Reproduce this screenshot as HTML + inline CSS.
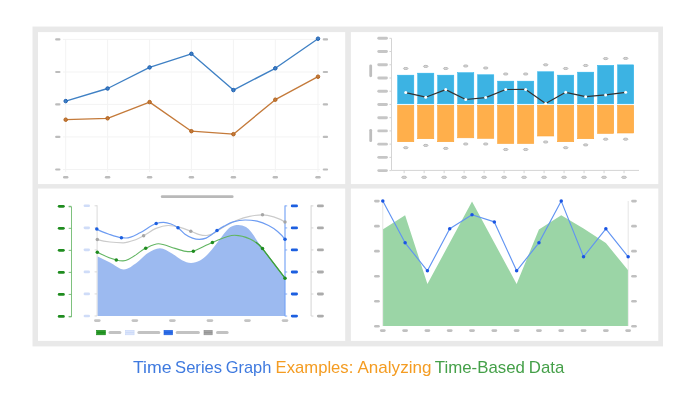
<!DOCTYPE html>
<html><head><meta charset="utf-8"><title>Time Series Graph Examples</title>
<style>
html,body{margin:0;padding:0;background:#ffffff;}
body{width:698px;height:400px;position:relative;overflow:hidden;font-family:"Liberation Sans",sans-serif;}
</style></head><body>
<svg width="698" height="400" viewBox="0 0 698 400" style="position:absolute;left:0;top:0">
<rect x="0" y="0" width="698" height="400" fill="#ffffff"/>
<rect x="32.5" y="26.55" width="630.5" height="319.85" fill="#e9e9e9"/>
<rect x="38.0" y="32.1" width="307.2" height="151.95" fill="#ffffff"/>
<rect x="350.9" y="32.1" width="307.4" height="151.95" fill="#ffffff"/>
<rect x="38.0" y="188.55" width="307.2" height="152.35" fill="#ffffff"/>
<rect x="350.9" y="188.55" width="307.4" height="152.35" fill="#ffffff"/>
<g id="tl">
<line x1="63" y1="39.4" x2="320" y2="39.4" stroke="#f3f3f3" stroke-width="1"/>
<line x1="63" y1="72.0" x2="320" y2="72.0" stroke="#f3f3f3" stroke-width="1"/>
<line x1="63" y1="104.4" x2="320" y2="104.4" stroke="#f3f3f3" stroke-width="1"/>
<line x1="63" y1="136.9" x2="320" y2="136.9" stroke="#f3f3f3" stroke-width="1"/>
<line x1="63" y1="169.5" x2="320" y2="169.5" stroke="#f3f3f3" stroke-width="1"/>
<line x1="65.7" y1="39.4" x2="65.7" y2="172" stroke="#f3f3f3" stroke-width="1"/>
<line x1="107.6" y1="39.4" x2="107.6" y2="172" stroke="#f3f3f3" stroke-width="1"/>
<line x1="149.6" y1="39.4" x2="149.6" y2="172" stroke="#f3f3f3" stroke-width="1"/>
<line x1="191.4" y1="39.4" x2="191.4" y2="172" stroke="#f3f3f3" stroke-width="1"/>
<line x1="233.4" y1="39.4" x2="233.4" y2="172" stroke="#f3f3f3" stroke-width="1"/>
<line x1="275.3" y1="39.4" x2="275.3" y2="172" stroke="#f3f3f3" stroke-width="1"/>
<line x1="318.0" y1="39.4" x2="318.0" y2="172" stroke="#f3f3f3" stroke-width="1"/>
<rect x="55.10" y="38.30" width="5.4" height="2.2" rx="1.1" fill="#bcbcbc"/>
<rect x="322.70" y="38.30" width="5.4" height="2.2" rx="1.1" fill="#bcbcbc"/>
<rect x="55.10" y="70.90" width="5.4" height="2.2" rx="1.1" fill="#bcbcbc"/>
<rect x="322.70" y="70.90" width="5.4" height="2.2" rx="1.1" fill="#bcbcbc"/>
<rect x="55.10" y="103.30" width="5.4" height="2.2" rx="1.1" fill="#bcbcbc"/>
<rect x="322.70" y="103.30" width="5.4" height="2.2" rx="1.1" fill="#bcbcbc"/>
<rect x="55.10" y="135.80" width="5.4" height="2.2" rx="1.1" fill="#bcbcbc"/>
<rect x="322.70" y="135.80" width="5.4" height="2.2" rx="1.1" fill="#bcbcbc"/>
<rect x="55.10" y="168.40" width="5.4" height="2.2" rx="1.1" fill="#bcbcbc"/>
<rect x="322.70" y="168.40" width="5.4" height="2.2" rx="1.1" fill="#bcbcbc"/>
<rect x="63.00" y="176.10" width="5.4" height="2.4" rx="1.2" fill="#bcbcbc"/>
<rect x="104.90" y="176.10" width="5.4" height="2.4" rx="1.2" fill="#bcbcbc"/>
<rect x="146.90" y="176.10" width="5.4" height="2.4" rx="1.2" fill="#bcbcbc"/>
<rect x="188.70" y="176.10" width="5.4" height="2.4" rx="1.2" fill="#bcbcbc"/>
<rect x="230.70" y="176.10" width="5.4" height="2.4" rx="1.2" fill="#bcbcbc"/>
<rect x="272.60" y="176.10" width="5.4" height="2.4" rx="1.2" fill="#bcbcbc"/>
<rect x="315.30" y="176.10" width="5.4" height="2.4" rx="1.2" fill="#bcbcbc"/>
<polyline points="65.7,119.7 107.6,118.3 149.6,102.1 191.4,131.2 233.4,134.2 275.3,99.7 318.0,76.7" fill="none" stroke="#c47a3a" stroke-width="1.35" stroke-linejoin="round"/>
<circle cx="65.7" cy="119.7" r="1.75" fill="#c47a3a" stroke="#b3631c" stroke-width="1"/>
<circle cx="107.6" cy="118.3" r="1.75" fill="#c47a3a" stroke="#b3631c" stroke-width="1"/>
<circle cx="149.6" cy="102.1" r="1.75" fill="#c47a3a" stroke="#b3631c" stroke-width="1"/>
<circle cx="191.4" cy="131.2" r="1.75" fill="#c47a3a" stroke="#b3631c" stroke-width="1"/>
<circle cx="233.4" cy="134.2" r="1.75" fill="#c47a3a" stroke="#b3631c" stroke-width="1"/>
<circle cx="275.3" cy="99.7" r="1.75" fill="#c47a3a" stroke="#b3631c" stroke-width="1"/>
<circle cx="318.0" cy="76.7" r="1.75" fill="#c47a3a" stroke="#b3631c" stroke-width="1"/>
<polyline points="65.7,101.1 107.6,88.5 149.6,67.4 191.4,53.8 233.4,90.1 275.3,68.3 318.0,38.7" fill="none" stroke="#3f80c4" stroke-width="1.35" stroke-linejoin="round"/>
<circle cx="65.7" cy="101.1" r="1.75" fill="#3f80c4" stroke="#1c5fb3" stroke-width="1"/>
<circle cx="107.6" cy="88.5" r="1.75" fill="#3f80c4" stroke="#1c5fb3" stroke-width="1"/>
<circle cx="149.6" cy="67.4" r="1.75" fill="#3f80c4" stroke="#1c5fb3" stroke-width="1"/>
<circle cx="191.4" cy="53.8" r="1.75" fill="#3f80c4" stroke="#1c5fb3" stroke-width="1"/>
<circle cx="233.4" cy="90.1" r="1.75" fill="#3f80c4" stroke="#1c5fb3" stroke-width="1"/>
<circle cx="275.3" cy="68.3" r="1.75" fill="#3f80c4" stroke="#1c5fb3" stroke-width="1"/>
<circle cx="318.0" cy="38.7" r="1.75" fill="#3f80c4" stroke="#1c5fb3" stroke-width="1"/>
</g>
<g id="tr">
<line x1="391.5" y1="38.3" x2="391.5" y2="170.4" stroke="#d4d4d4" stroke-width="1"/>
<line x1="391.5" y1="170.4" x2="639" y2="170.4" stroke="#d4d4d4" stroke-width="1"/>
<rect x="377.30" y="36.85" width="10.6" height="2.9" rx="1.45" fill="#c6c6c6"/>
<line x1="389.4" y1="38.30" x2="391.5" y2="38.30" stroke="#d4d4d4" stroke-width="1"/>
<rect x="377.30" y="50.08" width="10.6" height="2.9" rx="1.45" fill="#c6c6c6"/>
<line x1="389.4" y1="51.53" x2="391.5" y2="51.53" stroke="#d4d4d4" stroke-width="1"/>
<rect x="377.30" y="63.31" width="10.6" height="2.9" rx="1.45" fill="#c6c6c6"/>
<line x1="389.4" y1="64.76" x2="391.5" y2="64.76" stroke="#d4d4d4" stroke-width="1"/>
<rect x="377.30" y="76.54" width="10.6" height="2.9" rx="1.45" fill="#c6c6c6"/>
<line x1="389.4" y1="77.99" x2="391.5" y2="77.99" stroke="#d4d4d4" stroke-width="1"/>
<rect x="377.30" y="89.77" width="10.6" height="2.9" rx="1.45" fill="#c6c6c6"/>
<line x1="389.4" y1="91.22" x2="391.5" y2="91.22" stroke="#d4d4d4" stroke-width="1"/>
<rect x="377.30" y="103.00" width="10.6" height="2.9" rx="1.45" fill="#c6c6c6"/>
<line x1="389.4" y1="104.45" x2="391.5" y2="104.45" stroke="#d4d4d4" stroke-width="1"/>
<rect x="377.30" y="116.23" width="10.6" height="2.9" rx="1.45" fill="#c6c6c6"/>
<line x1="389.4" y1="117.68" x2="391.5" y2="117.68" stroke="#d4d4d4" stroke-width="1"/>
<rect x="377.30" y="129.46" width="10.6" height="2.9" rx="1.45" fill="#c6c6c6"/>
<line x1="389.4" y1="130.91" x2="391.5" y2="130.91" stroke="#d4d4d4" stroke-width="1"/>
<rect x="377.30" y="142.69" width="10.6" height="2.9" rx="1.45" fill="#c6c6c6"/>
<line x1="389.4" y1="144.14" x2="391.5" y2="144.14" stroke="#d4d4d4" stroke-width="1"/>
<rect x="377.30" y="155.92" width="10.6" height="2.9" rx="1.45" fill="#c6c6c6"/>
<line x1="389.4" y1="157.37" x2="391.5" y2="157.37" stroke="#d4d4d4" stroke-width="1"/>
<rect x="377.30" y="169.15" width="10.6" height="2.9" rx="1.45" fill="#c6c6c6"/>
<line x1="389.4" y1="170.60" x2="391.5" y2="170.60" stroke="#d4d4d4" stroke-width="1"/>
<rect x="369.3" y="64.4" width="2.8" height="12.8" rx="1.4" fill="#bebebe"/>
<rect x="369.3" y="128.9" width="2.8" height="13.2" rx="1.4" fill="#bebebe"/>
<rect x="397.65" y="75.15" width="16.2" height="28.70" fill="#3cb3e3" stroke="#2bb4ee" stroke-width="0.5"/>
<rect x="397.70" y="105.3" width="16.099999999999998" height="36.40" fill="#ffaf4b" stroke="#fba43a" stroke-width="0.6"/>
<ellipse cx="405.75" cy="68.50" rx="2.3" ry="1.05" fill="#d6d6d6" stroke="#b6b6b6" stroke-width="0.9"/>
<ellipse cx="405.75" cy="147.70" rx="2.3" ry="1.05" fill="#d6d6d6" stroke="#b6b6b6" stroke-width="0.9"/>
<line x1="404.15" y1="170.4" x2="404.15" y2="173.2" stroke="#cfcfcf" stroke-width="0.9"/>
<ellipse cx="404.15" cy="177.3" rx="2.5" ry="1.1" fill="#d6d6d6" stroke="#b8b8b8" stroke-width="0.9"/>
<rect x="417.64" y="73.15" width="16.2" height="30.70" fill="#3cb3e3" stroke="#2bb4ee" stroke-width="0.5"/>
<rect x="417.69" y="105.3" width="16.099999999999998" height="33.40" fill="#ffaf4b" stroke="#fba43a" stroke-width="0.6"/>
<ellipse cx="425.74" cy="66.40" rx="2.3" ry="1.05" fill="#d6d6d6" stroke="#b6b6b6" stroke-width="0.9"/>
<ellipse cx="425.74" cy="145.40" rx="2.3" ry="1.05" fill="#d6d6d6" stroke="#b6b6b6" stroke-width="0.9"/>
<line x1="424.14" y1="170.4" x2="424.14" y2="173.2" stroke="#cfcfcf" stroke-width="0.9"/>
<ellipse cx="424.14" cy="177.3" rx="2.5" ry="1.1" fill="#d6d6d6" stroke="#b8b8b8" stroke-width="0.9"/>
<rect x="437.63" y="75.15" width="16.2" height="28.70" fill="#3cb3e3" stroke="#2bb4ee" stroke-width="0.5"/>
<rect x="437.68" y="105.3" width="16.099999999999998" height="36.40" fill="#ffaf4b" stroke="#fba43a" stroke-width="0.6"/>
<ellipse cx="445.73" cy="68.50" rx="2.3" ry="1.05" fill="#d6d6d6" stroke="#b6b6b6" stroke-width="0.9"/>
<ellipse cx="445.73" cy="148.40" rx="2.3" ry="1.05" fill="#d6d6d6" stroke="#b6b6b6" stroke-width="0.9"/>
<line x1="444.13" y1="170.4" x2="444.13" y2="173.2" stroke="#cfcfcf" stroke-width="0.9"/>
<ellipse cx="444.13" cy="177.3" rx="2.5" ry="1.1" fill="#d6d6d6" stroke="#b8b8b8" stroke-width="0.9"/>
<rect x="457.62" y="72.65" width="16.2" height="31.20" fill="#3cb3e3" stroke="#2bb4ee" stroke-width="0.5"/>
<rect x="457.67" y="105.3" width="16.099999999999998" height="32.50" fill="#ffaf4b" stroke="#fba43a" stroke-width="0.6"/>
<ellipse cx="465.72" cy="66.00" rx="2.3" ry="1.05" fill="#d6d6d6" stroke="#b6b6b6" stroke-width="0.9"/>
<ellipse cx="465.72" cy="144.00" rx="2.3" ry="1.05" fill="#d6d6d6" stroke="#b6b6b6" stroke-width="0.9"/>
<line x1="464.12" y1="170.4" x2="464.12" y2="173.2" stroke="#cfcfcf" stroke-width="0.9"/>
<ellipse cx="464.12" cy="177.3" rx="2.5" ry="1.1" fill="#d6d6d6" stroke="#b8b8b8" stroke-width="0.9"/>
<rect x="477.61" y="74.75" width="16.2" height="29.10" fill="#3cb3e3" stroke="#2bb4ee" stroke-width="0.5"/>
<rect x="477.66" y="105.3" width="16.099999999999998" height="33.00" fill="#ffaf4b" stroke="#fba43a" stroke-width="0.6"/>
<ellipse cx="485.71" cy="68.00" rx="2.3" ry="1.05" fill="#d6d6d6" stroke="#b6b6b6" stroke-width="0.9"/>
<ellipse cx="485.71" cy="144.00" rx="2.3" ry="1.05" fill="#d6d6d6" stroke="#b6b6b6" stroke-width="0.9"/>
<line x1="484.11" y1="170.4" x2="484.11" y2="173.2" stroke="#cfcfcf" stroke-width="0.9"/>
<ellipse cx="484.11" cy="177.3" rx="2.5" ry="1.1" fill="#d6d6d6" stroke="#b8b8b8" stroke-width="0.9"/>
<rect x="497.60" y="81.15" width="16.2" height="22.70" fill="#3cb3e3" stroke="#2bb4ee" stroke-width="0.5"/>
<rect x="497.65" y="105.3" width="16.099999999999998" height="38.20" fill="#ffaf4b" stroke="#fba43a" stroke-width="0.6"/>
<ellipse cx="505.70" cy="74.00" rx="2.3" ry="1.05" fill="#d6d6d6" stroke="#b6b6b6" stroke-width="0.9"/>
<ellipse cx="505.70" cy="149.50" rx="2.3" ry="1.05" fill="#d6d6d6" stroke="#b6b6b6" stroke-width="0.9"/>
<line x1="504.10" y1="170.4" x2="504.10" y2="173.2" stroke="#cfcfcf" stroke-width="0.9"/>
<ellipse cx="504.10" cy="177.3" rx="2.5" ry="1.1" fill="#d6d6d6" stroke="#b8b8b8" stroke-width="0.9"/>
<rect x="517.59" y="81.15" width="16.2" height="22.70" fill="#3cb3e3" stroke="#2bb4ee" stroke-width="0.5"/>
<rect x="517.64" y="105.3" width="16.099999999999998" height="38.20" fill="#ffaf4b" stroke="#fba43a" stroke-width="0.6"/>
<ellipse cx="525.69" cy="74.00" rx="2.3" ry="1.05" fill="#d6d6d6" stroke="#b6b6b6" stroke-width="0.9"/>
<ellipse cx="525.69" cy="149.50" rx="2.3" ry="1.05" fill="#d6d6d6" stroke="#b6b6b6" stroke-width="0.9"/>
<line x1="524.09" y1="170.4" x2="524.09" y2="173.2" stroke="#cfcfcf" stroke-width="0.9"/>
<ellipse cx="524.09" cy="177.3" rx="2.5" ry="1.1" fill="#d6d6d6" stroke="#b8b8b8" stroke-width="0.9"/>
<rect x="537.58" y="71.75" width="16.2" height="32.10" fill="#3cb3e3" stroke="#2bb4ee" stroke-width="0.5"/>
<rect x="537.63" y="105.3" width="16.099999999999998" height="30.70" fill="#ffaf4b" stroke="#fba43a" stroke-width="0.6"/>
<ellipse cx="545.68" cy="64.80" rx="2.3" ry="1.05" fill="#d6d6d6" stroke="#b6b6b6" stroke-width="0.9"/>
<ellipse cx="545.68" cy="142.00" rx="2.3" ry="1.05" fill="#d6d6d6" stroke="#b6b6b6" stroke-width="0.9"/>
<line x1="544.08" y1="170.4" x2="544.08" y2="173.2" stroke="#cfcfcf" stroke-width="0.9"/>
<ellipse cx="544.08" cy="177.3" rx="2.5" ry="1.1" fill="#d6d6d6" stroke="#b8b8b8" stroke-width="0.9"/>
<rect x="557.57" y="75.15" width="16.2" height="28.70" fill="#3cb3e3" stroke="#2bb4ee" stroke-width="0.5"/>
<rect x="557.62" y="105.3" width="16.099999999999998" height="36.40" fill="#ffaf4b" stroke="#fba43a" stroke-width="0.6"/>
<ellipse cx="565.67" cy="68.50" rx="2.3" ry="1.05" fill="#d6d6d6" stroke="#b6b6b6" stroke-width="0.9"/>
<ellipse cx="565.67" cy="147.70" rx="2.3" ry="1.05" fill="#d6d6d6" stroke="#b6b6b6" stroke-width="0.9"/>
<line x1="564.07" y1="170.4" x2="564.07" y2="173.2" stroke="#cfcfcf" stroke-width="0.9"/>
<ellipse cx="564.07" cy="177.3" rx="2.5" ry="1.1" fill="#d6d6d6" stroke="#b8b8b8" stroke-width="0.9"/>
<rect x="577.56" y="72.15" width="16.2" height="31.70" fill="#3cb3e3" stroke="#2bb4ee" stroke-width="0.5"/>
<rect x="577.61" y="105.3" width="16.099999999999998" height="33.40" fill="#ffaf4b" stroke="#fba43a" stroke-width="0.6"/>
<ellipse cx="585.66" cy="65.50" rx="2.3" ry="1.05" fill="#d6d6d6" stroke="#b6b6b6" stroke-width="0.9"/>
<ellipse cx="585.66" cy="144.90" rx="2.3" ry="1.05" fill="#d6d6d6" stroke="#b6b6b6" stroke-width="0.9"/>
<line x1="584.06" y1="170.4" x2="584.06" y2="173.2" stroke="#cfcfcf" stroke-width="0.9"/>
<ellipse cx="584.06" cy="177.3" rx="2.5" ry="1.1" fill="#d6d6d6" stroke="#b8b8b8" stroke-width="0.9"/>
<rect x="597.55" y="65.35" width="16.2" height="38.50" fill="#3cb3e3" stroke="#2bb4ee" stroke-width="0.5"/>
<rect x="597.60" y="105.3" width="16.099999999999998" height="28.10" fill="#ffaf4b" stroke="#fba43a" stroke-width="0.6"/>
<ellipse cx="605.65" cy="58.60" rx="2.3" ry="1.05" fill="#d6d6d6" stroke="#b6b6b6" stroke-width="0.9"/>
<ellipse cx="605.65" cy="139.20" rx="2.3" ry="1.05" fill="#d6d6d6" stroke="#b6b6b6" stroke-width="0.9"/>
<line x1="604.05" y1="170.4" x2="604.05" y2="173.2" stroke="#cfcfcf" stroke-width="0.9"/>
<ellipse cx="604.05" cy="177.3" rx="2.5" ry="1.1" fill="#d6d6d6" stroke="#b8b8b8" stroke-width="0.9"/>
<rect x="617.54" y="64.85" width="16.2" height="39.00" fill="#3cb3e3" stroke="#2bb4ee" stroke-width="0.5"/>
<rect x="617.59" y="105.3" width="16.099999999999998" height="27.70" fill="#ffaf4b" stroke="#fba43a" stroke-width="0.6"/>
<ellipse cx="625.64" cy="58.40" rx="2.3" ry="1.05" fill="#d6d6d6" stroke="#b6b6b6" stroke-width="0.9"/>
<ellipse cx="625.64" cy="139.20" rx="2.3" ry="1.05" fill="#d6d6d6" stroke="#b6b6b6" stroke-width="0.9"/>
<line x1="624.04" y1="170.4" x2="624.04" y2="173.2" stroke="#cfcfcf" stroke-width="0.9"/>
<ellipse cx="624.04" cy="177.3" rx="2.5" ry="1.1" fill="#d6d6d6" stroke="#b8b8b8" stroke-width="0.9"/>
<polyline points="405.75,92.6 425.74,97.2 445.73,89.6 465.72,99.5 485.71,97.6 505.70,89.5 525.69,89.4 545.68,103.6 565.67,92.3 585.66,96.7 605.65,94.9 625.64,92.3" fill="none" stroke="#333333" stroke-width="1.2" stroke-linejoin="round"/>
<circle cx="405.75" cy="92.6" r="1.5" fill="#ffffff"/>
<circle cx="425.74" cy="97.2" r="1.5" fill="#ffffff"/>
<circle cx="445.73" cy="89.6" r="1.5" fill="#ffffff"/>
<circle cx="465.72" cy="99.5" r="1.5" fill="#ffffff"/>
<circle cx="485.71" cy="97.6" r="1.5" fill="#ffffff"/>
<circle cx="505.70" cy="89.5" r="1.5" fill="#ffffff"/>
<circle cx="525.69" cy="89.4" r="1.5" fill="#ffffff"/>
<circle cx="545.68" cy="103.6" r="1.5" fill="#ffffff"/>
<circle cx="565.67" cy="92.3" r="1.5" fill="#ffffff"/>
<circle cx="585.66" cy="96.7" r="1.5" fill="#ffffff"/>
<circle cx="605.65" cy="94.9" r="1.5" fill="#ffffff"/>
<circle cx="625.64" cy="92.3" r="1.5" fill="#ffffff"/>
</g>
<g id="bl">
<rect x="160.80" y="195.30" width="72.8" height="2.8" rx="1.4" fill="#b9b9b9"/>
<path d="M68.7,206.8 H71.5 V316.9 H68.7" fill="none" stroke="#6fba6f" stroke-width="0.9"/>
<line x1="68.7" y1="206.30" x2="71.4" y2="206.30" stroke="#6fba6f" stroke-width="0.9"/>
<rect x="57.80" y="204.90" width="7.0" height="2.8" rx="1.4" fill="#1f8c1f"/>
<rect x="83.60" y="204.50" width="6.4" height="2.6" rx="1.3" fill="#cfdcf8"/>
<line x1="94.6" y1="205.80" x2="97.1" y2="205.80" stroke="#d6d6d6" stroke-width="0.9"/>
<rect x="290.80" y="204.50" width="7.2" height="2.8" rx="1.4" fill="#1c5fe0"/>
<line x1="285" y1="205.90" x2="287.2" y2="205.90" stroke="#7aa5f5" stroke-width="0.9"/>
<rect x="316.90" y="204.50" width="7.0" height="2.8" rx="1.4" fill="#ababab"/>
<line x1="311.1" y1="205.90" x2="313.4" y2="205.90" stroke="#cfcfcf" stroke-width="0.9"/>
<line x1="68.7" y1="228.33" x2="71.4" y2="228.33" stroke="#6fba6f" stroke-width="0.9"/>
<rect x="57.80" y="226.93" width="7.0" height="2.8" rx="1.4" fill="#1f8c1f"/>
<rect x="83.60" y="226.53" width="6.4" height="2.6" rx="1.3" fill="#cfdcf8"/>
<line x1="94.6" y1="227.83" x2="97.1" y2="227.83" stroke="#d6d6d6" stroke-width="0.9"/>
<rect x="290.80" y="226.53" width="7.2" height="2.8" rx="1.4" fill="#1c5fe0"/>
<line x1="285" y1="227.93" x2="287.2" y2="227.93" stroke="#7aa5f5" stroke-width="0.9"/>
<rect x="316.90" y="226.53" width="7.0" height="2.8" rx="1.4" fill="#ababab"/>
<line x1="311.1" y1="227.93" x2="313.4" y2="227.93" stroke="#cfcfcf" stroke-width="0.9"/>
<line x1="68.7" y1="250.36" x2="71.4" y2="250.36" stroke="#6fba6f" stroke-width="0.9"/>
<rect x="57.80" y="248.96" width="7.0" height="2.8" rx="1.4" fill="#1f8c1f"/>
<rect x="83.60" y="248.56" width="6.4" height="2.6" rx="1.3" fill="#cfdcf8"/>
<line x1="94.6" y1="249.86" x2="97.1" y2="249.86" stroke="#d6d6d6" stroke-width="0.9"/>
<rect x="290.80" y="248.56" width="7.2" height="2.8" rx="1.4" fill="#1c5fe0"/>
<line x1="285" y1="249.96" x2="287.2" y2="249.96" stroke="#7aa5f5" stroke-width="0.9"/>
<rect x="316.90" y="248.56" width="7.0" height="2.8" rx="1.4" fill="#ababab"/>
<line x1="311.1" y1="249.96" x2="313.4" y2="249.96" stroke="#cfcfcf" stroke-width="0.9"/>
<line x1="68.7" y1="272.39" x2="71.4" y2="272.39" stroke="#6fba6f" stroke-width="0.9"/>
<rect x="57.80" y="270.99" width="7.0" height="2.8" rx="1.4" fill="#1f8c1f"/>
<rect x="83.60" y="270.59" width="6.4" height="2.6" rx="1.3" fill="#cfdcf8"/>
<line x1="94.6" y1="271.89" x2="97.1" y2="271.89" stroke="#d6d6d6" stroke-width="0.9"/>
<rect x="290.80" y="270.59" width="7.2" height="2.8" rx="1.4" fill="#1c5fe0"/>
<line x1="285" y1="271.99" x2="287.2" y2="271.99" stroke="#7aa5f5" stroke-width="0.9"/>
<rect x="316.90" y="270.59" width="7.0" height="2.8" rx="1.4" fill="#ababab"/>
<line x1="311.1" y1="271.99" x2="313.4" y2="271.99" stroke="#cfcfcf" stroke-width="0.9"/>
<line x1="68.7" y1="294.42" x2="71.4" y2="294.42" stroke="#6fba6f" stroke-width="0.9"/>
<rect x="57.80" y="293.02" width="7.0" height="2.8" rx="1.4" fill="#1f8c1f"/>
<rect x="83.60" y="292.62" width="6.4" height="2.6" rx="1.3" fill="#cfdcf8"/>
<line x1="94.6" y1="293.92" x2="97.1" y2="293.92" stroke="#d6d6d6" stroke-width="0.9"/>
<rect x="290.80" y="292.62" width="7.2" height="2.8" rx="1.4" fill="#1c5fe0"/>
<line x1="285" y1="294.02" x2="287.2" y2="294.02" stroke="#7aa5f5" stroke-width="0.9"/>
<rect x="316.90" y="292.62" width="7.0" height="2.8" rx="1.4" fill="#ababab"/>
<line x1="311.1" y1="294.02" x2="313.4" y2="294.02" stroke="#cfcfcf" stroke-width="0.9"/>
<line x1="68.7" y1="316.45" x2="71.4" y2="316.45" stroke="#6fba6f" stroke-width="0.9"/>
<rect x="57.80" y="315.05" width="7.0" height="2.8" rx="1.4" fill="#1f8c1f"/>
<rect x="83.60" y="314.65" width="6.4" height="2.6" rx="1.3" fill="#cfdcf8"/>
<line x1="94.6" y1="315.95" x2="97.1" y2="315.95" stroke="#d6d6d6" stroke-width="0.9"/>
<rect x="290.80" y="314.65" width="7.2" height="2.8" rx="1.4" fill="#1c5fe0"/>
<line x1="285" y1="316.05" x2="287.2" y2="316.05" stroke="#7aa5f5" stroke-width="0.9"/>
<rect x="316.90" y="314.65" width="7.0" height="2.8" rx="1.4" fill="#ababab"/>
<line x1="311.1" y1="316.05" x2="313.4" y2="316.05" stroke="#cfcfcf" stroke-width="0.9"/>
<line x1="97.1" y1="205.3" x2="97.1" y2="316" stroke="#d6d6d6" stroke-width="0.9"/>
<line x1="311.1" y1="205.3" x2="311.1" y2="316" stroke="#cfcfcf" stroke-width="0.9"/>
<path d="M97.70,256.50 C101.80,258.35 105.90,260.56 110.00,262.60 C114.60,264.89 119.20,269.50 123.80,269.50 C128.20,269.50 132.60,265.50 137.00,262.50 C140.67,260.00 144.33,255.27 148.00,253.00 C151.97,250.54 155.93,248.30 159.90,248.30 C163.93,248.30 167.97,251.33 172.00,253.50 C175.33,255.29 178.67,258.55 182.00,260.20 C185.00,261.68 188.00,262.90 191.00,262.90 C194.00,262.90 197.00,262.17 200.00,260.60 C202.67,259.20 205.33,256.65 208.00,254.00 C210.37,251.65 212.73,248.60 215.10,245.60 C218.10,241.80 221.10,237.28 224.10,233.60 C226.10,231.15 228.10,228.42 230.10,227.20 C232.87,225.52 235.63,224.90 238.40,224.90 C240.93,224.90 243.47,225.57 246.00,227.00 C247.73,227.97 249.47,229.83 251.20,232.10 C254.97,237.03 258.73,243.51 262.50,248.60 L285,278.2 V316 H97.7 Z" fill="#9cbaf0"/>
<line x1="285" y1="205.5" x2="285" y2="316.3" stroke="#74a2f5" stroke-width="1.15"/>
<path d="M97.30,239.60 C101.53,240.66 105.77,241.47 110.00,242.00 C114.37,242.54 118.73,242.80 123.10,242.80 C126.73,242.80 130.37,241.56 134.00,240.30 C137.20,239.19 140.40,237.43 143.60,235.70 C147.73,233.46 151.87,230.11 156.00,228.40 C160.07,226.71 164.13,225.50 168.20,225.50 C172.13,225.50 176.07,226.30 180.00,227.30 C183.67,228.23 187.33,229.91 191.00,231.30 C193.50,232.25 196.00,233.60 198.50,234.30 C201.03,235.00 203.57,235.50 206.10,235.50 C208.10,235.50 210.10,234.80 212.10,234.00 C213.83,233.30 215.57,232.04 217.30,231.00 C219.57,229.64 221.83,228.03 224.10,226.80 C228.60,224.36 233.10,221.85 237.60,220.00 C241.63,218.35 245.67,217.14 249.70,216.30 C253.97,215.41 258.23,214.80 262.50,214.80 C266.23,214.80 269.97,215.71 273.70,216.90 C277.47,218.11 281.23,219.74 285.00,222.00" fill="none" stroke="#cbcbcb" stroke-width="1.2"/>
<circle cx="97.3" cy="239.6" r="1.75" fill="#a6a6a6"/>
<circle cx="143.6" cy="235.7" r="1.75" fill="#a6a6a6"/>
<circle cx="190.8" cy="231.3" r="1.75" fill="#a6a6a6"/>
<circle cx="262.5" cy="214.8" r="1.75" fill="#a6a6a6"/>
<circle cx="285" cy="222.0" r="1.75" fill="#a6a6a6"/>
<path d="M97.30,252.20 C103.63,255.37 109.97,258.42 116.30,260.00 C118.53,260.56 120.77,260.90 123.00,260.90 C130.57,260.90 138.13,251.96 145.70,248.30 C149.93,246.26 154.17,243.80 158.40,243.80 C163.93,243.80 169.47,246.93 175.00,248.40 C179.23,249.53 183.47,251.60 187.70,251.60 C189.57,251.60 191.43,251.89 193.30,251.20 C199.67,248.85 206.03,244.95 212.40,242.50 C219.80,239.65 227.20,235.30 234.60,235.30 C239.73,235.30 244.87,236.55 250.00,239.00 C254.17,240.99 258.33,243.60 262.50,248.60 L285,278.2" fill="none" stroke="#62b562" stroke-width="1.1"/>
<path d="M255.7,241.9 Q259.5,244.6 262.5,248.6 L285,278.2" fill="none" stroke="#3c9f3c" stroke-width="1.25"/>
<circle cx="97.3" cy="252.2" r="1.75" fill="#1f8c1f"/>
<circle cx="116.3" cy="260" r="1.75" fill="#1f8c1f"/>
<circle cx="145.7" cy="248.3" r="1.75" fill="#1f8c1f"/>
<circle cx="193.3" cy="251.2" r="1.75" fill="#1f8c1f"/>
<circle cx="212.4" cy="242.5" r="1.75" fill="#1f8c1f"/>
<circle cx="262.5" cy="248.6" r="1.75" fill="#1f8c1f"/>
<circle cx="285" cy="278.2" r="1.75" fill="#1f8c1f"/>
<path d="M96.80,229.10 C100.87,231.34 104.93,232.78 109.00,234.20 C113.13,235.64 117.27,237.20 121.40,237.70 C122.93,237.88 124.47,238.00 126.00,238.00 C130.67,238.00 135.33,235.04 140.00,232.80 C145.40,230.21 150.80,225.12 156.20,223.50 C158.63,222.77 161.07,222.40 163.50,222.40 C166.00,222.40 168.50,223.09 171.00,224.00 C173.33,224.85 175.67,225.98 178.00,227.70 C180.33,229.42 182.67,232.63 185.00,234.30 C187.50,236.09 190.00,237.23 192.50,238.10 C194.77,238.89 197.03,239.30 199.30,239.30 C201.57,239.30 203.83,238.99 206.10,238.10 C208.10,237.32 210.10,235.68 212.10,234.30 C213.73,233.18 215.37,231.72 217.00,230.60 C219.37,228.98 221.73,227.39 224.10,226.10 C227.10,224.46 230.10,222.67 233.10,221.80 C237.13,220.63 241.17,220.00 245.20,220.00 C249.20,220.00 253.20,220.26 257.20,221.20 C261.00,222.09 264.80,223.58 268.60,225.50 C271.60,227.01 274.60,228.98 277.60,231.50 C280.07,233.58 282.53,236.09 285.00,239.30" fill="none" stroke="#6d9cf2" stroke-width="1.2"/>
<circle cx="96.8" cy="229.1" r="1.75" fill="#1c5fe0"/>
<circle cx="121.4" cy="237.7" r="1.75" fill="#1c5fe0"/>
<circle cx="156.2" cy="223.5" r="1.75" fill="#1c5fe0"/>
<circle cx="178" cy="227.7" r="1.75" fill="#1c5fe0"/>
<circle cx="217" cy="230.6" r="1.75" fill="#1c5fe0"/>
<circle cx="285" cy="239.3" r="1.75" fill="#1c5fe0"/>
<rect x="94.00" y="319.20" width="6.6" height="2.8" rx="1.4" fill="#c4c4c4"/>
<rect x="131.54" y="319.20" width="6.6" height="2.8" rx="1.4" fill="#c4c4c4"/>
<rect x="169.08" y="319.20" width="6.6" height="2.8" rx="1.4" fill="#c4c4c4"/>
<rect x="206.62" y="319.20" width="6.6" height="2.8" rx="1.4" fill="#c4c4c4"/>
<rect x="244.16" y="319.20" width="6.6" height="2.8" rx="1.4" fill="#c4c4c4"/>
<rect x="281.70" y="319.20" width="6.6" height="2.8" rx="1.4" fill="#c4c4c4"/>
<rect x="96.6" y="330.3" width="8.8" height="4.5" fill="#2a9a2a" stroke="#178817" stroke-width="0.6"/>
<line x1="96.6" y1="332.55" x2="105.4" y2="332.55" stroke="#178817" stroke-width="0.7"/>
<rect x="108.50" y="331.10" width="12.9" height="3.0" rx="1.5" fill="#c2c2c2"/>
<rect x="125.5" y="330.3" width="8.6" height="4.5" fill="#dbe5fb" stroke="#c6d6f8" stroke-width="0.6"/>
<line x1="125.5" y1="332.55" x2="134.1" y2="332.55" stroke="#c6d6f8" stroke-width="0.7"/>
<rect x="137.40" y="331.10" width="22.9" height="3.0" rx="1.5" fill="#c2c2c2"/>
<rect x="164.0" y="330.3" width="8.6" height="4.5" fill="#2f6de6" stroke="#1c5fe0" stroke-width="0.6"/>
<line x1="164.0" y1="332.55" x2="172.6" y2="332.55" stroke="#1c5fe0" stroke-width="0.7"/>
<rect x="175.70" y="331.10" width="24.2" height="3.0" rx="1.5" fill="#c2c2c2"/>
<rect x="204.0" y="330.3" width="8.2" height="4.5" fill="#a4a4a4" stroke="#8f8f8f" stroke-width="0.6"/>
<line x1="204.0" y1="332.55" x2="212.2" y2="332.55" stroke="#8f8f8f" stroke-width="0.7"/>
<rect x="216.00" y="331.10" width="12.6" height="3.0" rx="1.5" fill="#c2c2c2"/>
</g>
<g id="br">
<line x1="382.8" y1="201" x2="382.8" y2="326" stroke="#e2e2e2" stroke-width="0.9"/>
<line x1="628.2" y1="201" x2="628.2" y2="326" stroke="#e2e2e2" stroke-width="0.9"/>
<polygon points="383.1,326 383.10,229.3 405.11,215.2 427.41,284.0 449.72,242.8 472.02,201.5 494.33,242.8 516.63,284.0 538.93,229.4 561.24,215.2 583.55,228.6 605.85,243.1 627.90,270.0 627.9,326" fill="#9bd5a6"/>
<rect x="374.05" y="199.80" width="5.7" height="2.6" rx="1.3" fill="#c0c0c0"/>
<rect x="631.15" y="199.80" width="5.7" height="2.6" rx="1.3" fill="#c0c0c0"/>
<rect x="374.05" y="224.83" width="5.7" height="2.6" rx="1.3" fill="#c0c0c0"/>
<rect x="631.15" y="224.83" width="5.7" height="2.6" rx="1.3" fill="#c0c0c0"/>
<rect x="374.05" y="249.86" width="5.7" height="2.6" rx="1.3" fill="#c0c0c0"/>
<rect x="631.15" y="249.86" width="5.7" height="2.6" rx="1.3" fill="#c0c0c0"/>
<rect x="374.05" y="274.89" width="5.7" height="2.6" rx="1.3" fill="#c0c0c0"/>
<rect x="631.15" y="274.89" width="5.7" height="2.6" rx="1.3" fill="#c0c0c0"/>
<rect x="374.05" y="299.92" width="5.7" height="2.6" rx="1.3" fill="#c0c0c0"/>
<rect x="631.15" y="299.92" width="5.7" height="2.6" rx="1.3" fill="#c0c0c0"/>
<rect x="374.05" y="324.95" width="5.7" height="2.6" rx="1.3" fill="#c0c0c0"/>
<rect x="631.15" y="324.95" width="5.7" height="2.6" rx="1.3" fill="#c0c0c0"/>
<rect x="379.95" y="329.30" width="5.7" height="2.6" rx="1.3" fill="#c0c0c0"/>
<rect x="402.25" y="329.30" width="5.7" height="2.6" rx="1.3" fill="#c0c0c0"/>
<rect x="424.56" y="329.30" width="5.7" height="2.6" rx="1.3" fill="#c0c0c0"/>
<rect x="446.87" y="329.30" width="5.7" height="2.6" rx="1.3" fill="#c0c0c0"/>
<rect x="469.17" y="329.30" width="5.7" height="2.6" rx="1.3" fill="#c0c0c0"/>
<rect x="491.48" y="329.30" width="5.7" height="2.6" rx="1.3" fill="#c0c0c0"/>
<rect x="513.78" y="329.30" width="5.7" height="2.6" rx="1.3" fill="#c0c0c0"/>
<rect x="536.08" y="329.30" width="5.7" height="2.6" rx="1.3" fill="#c0c0c0"/>
<rect x="558.39" y="329.30" width="5.7" height="2.6" rx="1.3" fill="#c0c0c0"/>
<rect x="580.70" y="329.30" width="5.7" height="2.6" rx="1.3" fill="#c0c0c0"/>
<rect x="603.00" y="329.30" width="5.7" height="2.6" rx="1.3" fill="#c0c0c0"/>
<rect x="625.30" y="329.30" width="5.7" height="2.6" rx="1.3" fill="#c0c0c0"/>
<polyline points="382.80,201.1 405.11,242.8 427.41,270.8 449.72,228.8 472.02,214.8 494.33,221.9 516.63,270.8 538.93,242.8 561.24,201.1 583.55,256.8 605.85,228.8 628.15,256.8" fill="none" stroke="#6194f2" stroke-width="1.15" stroke-linejoin="round"/>
<circle cx="382.80" cy="201.1" r="1.75" fill="#1a55e3"/>
<circle cx="405.11" cy="242.8" r="1.75" fill="#1a55e3"/>
<circle cx="427.41" cy="270.8" r="1.75" fill="#1a55e3"/>
<circle cx="449.72" cy="228.8" r="1.75" fill="#1a55e3"/>
<circle cx="472.02" cy="214.8" r="1.75" fill="#1a55e3"/>
<circle cx="494.33" cy="221.9" r="1.75" fill="#1a55e3"/>
<circle cx="516.63" cy="270.8" r="1.75" fill="#1a55e3"/>
<circle cx="538.93" cy="242.8" r="1.75" fill="#1a55e3"/>
<circle cx="561.24" cy="201.1" r="1.75" fill="#1a55e3"/>
<circle cx="583.55" cy="256.8" r="1.75" fill="#1a55e3"/>
<circle cx="605.85" cy="228.8" r="1.75" fill="#1a55e3"/>
<circle cx="628.15" cy="256.8" r="1.75" fill="#1a55e3"/>
</g>
</svg>
<svg width="698" height="400" viewBox="0 0 698 400" style="position:absolute;left:0;top:0;will-change:transform">
<g font-family="'Liberation Sans', sans-serif" font-size="17">
<text x="132.90" y="372.6" textLength="38.70" lengthAdjust="spacingAndGlyphs" fill="#3f7adf">Time</text>
<text x="175.10" y="372.6" textLength="47.00" lengthAdjust="spacingAndGlyphs" fill="#3f7adf">Series</text>
<text x="225.70" y="372.6" textLength="45.70" lengthAdjust="spacingAndGlyphs" fill="#3f7adf">Graph</text>
<text x="275.60" y="372.6" textLength="77.70" lengthAdjust="spacingAndGlyphs" fill="#f49c22">Examples:</text>
<text x="357.50" y="372.6" textLength="73.90" lengthAdjust="spacingAndGlyphs" fill="#f49c22">Analyzing</text>
<text x="434.80" y="372.6" textLength="90.10" lengthAdjust="spacingAndGlyphs" fill="#45a049">Time-Based</text>
<text x="528.80" y="372.6" textLength="35.50" lengthAdjust="spacingAndGlyphs" fill="#45a049">Data</text>
</g>
</svg>
</body></html>
